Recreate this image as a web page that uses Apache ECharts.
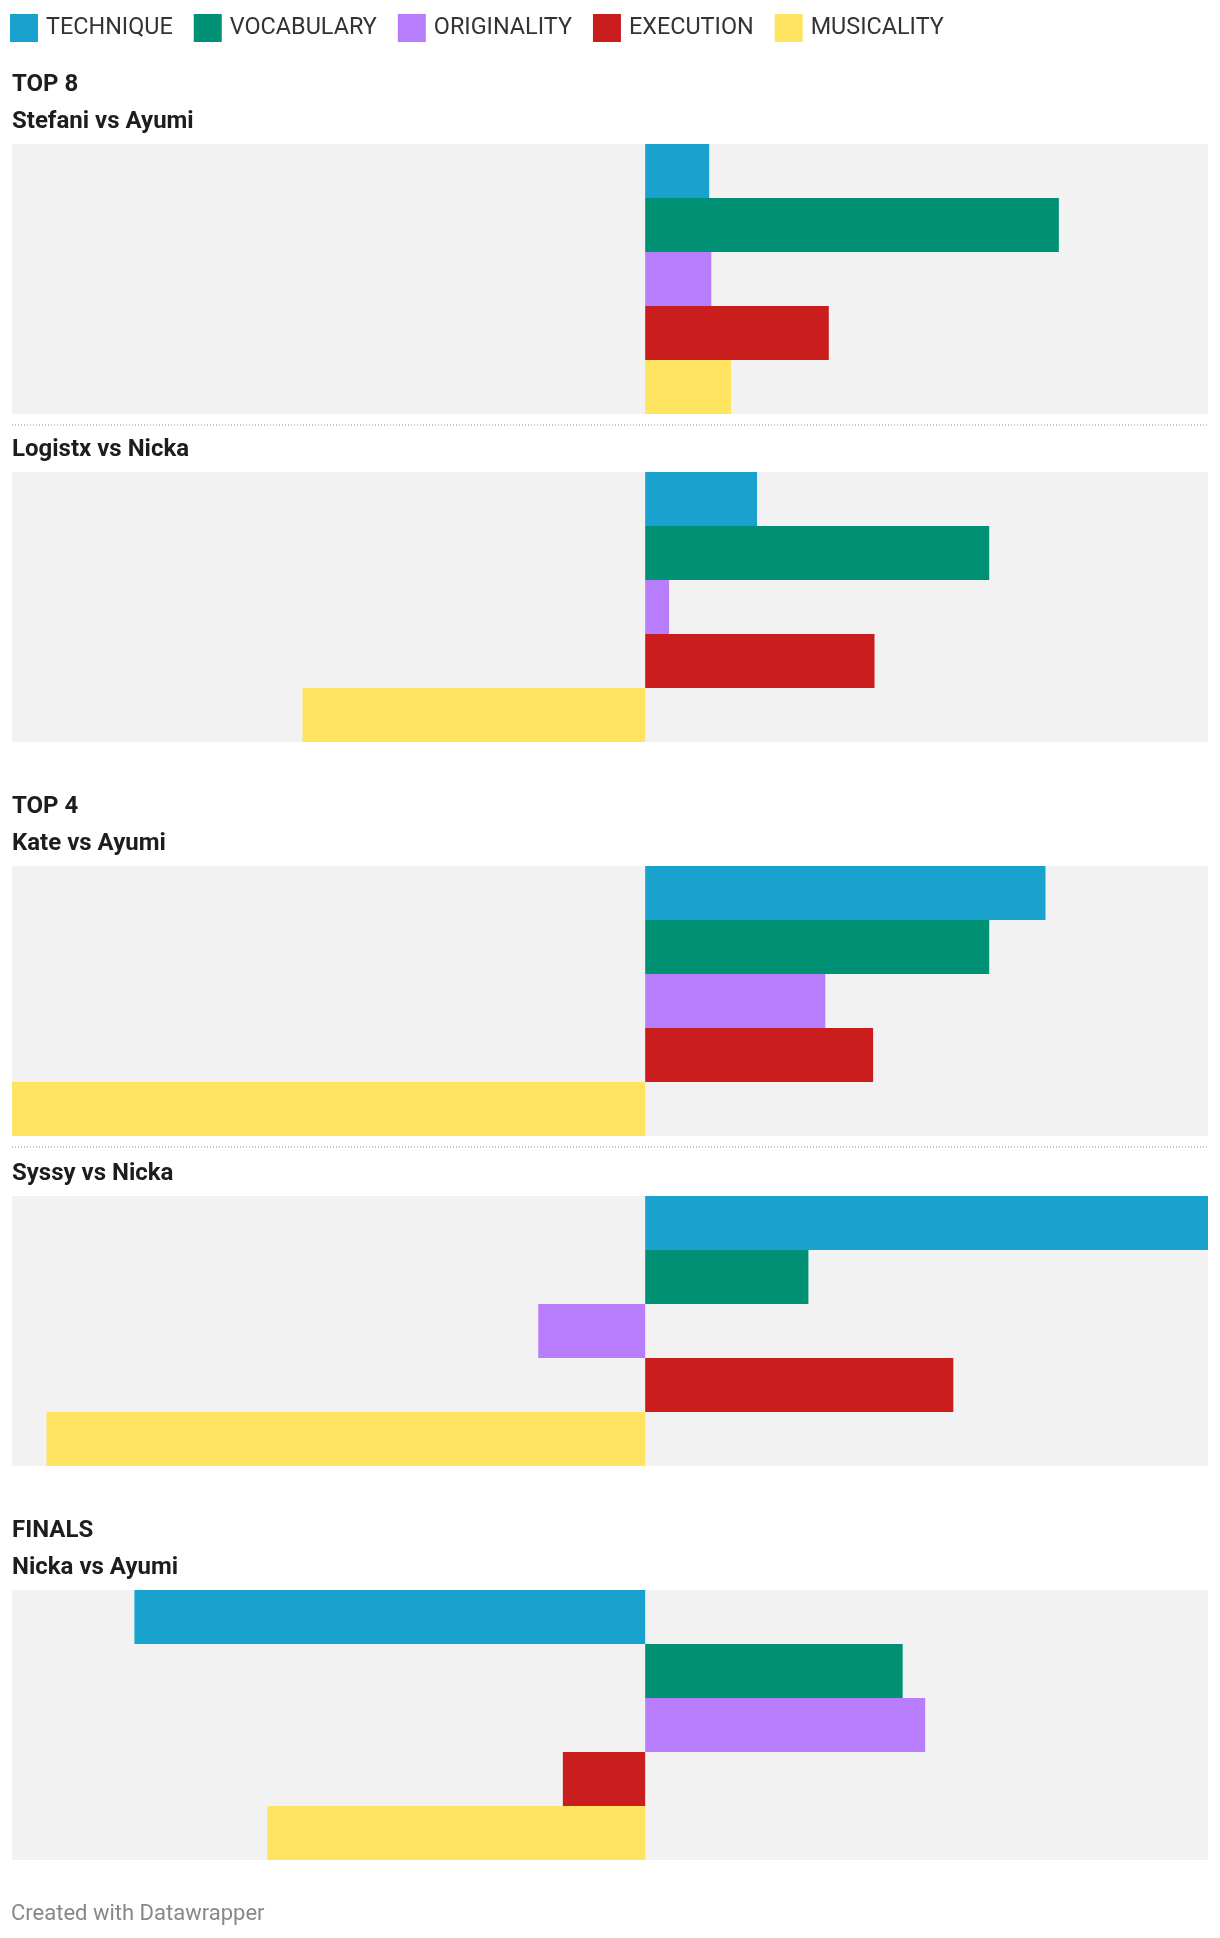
<!DOCTYPE html>
<html>
<head>
<meta charset="utf-8">
<script src="https://cdn.jsdelivr.net/npm/echarts@6/dist/echarts.min.js"></script>
<style>
  html, body { margin: 0; padding: 0; background: #ffffff; }
  #chart { width: 1220px; height: 1938px; }
</style>
</head>
<body>
<div id="chart"></div>
<script>
// ---- data ----
const categories = ['TECHNIQUE', 'VOCABULARY', 'ORIGINALITY', 'EXECUTION', 'MUSICALITY'];
const categoryColors = ['#19a2ce', '#009175', '#b87dfd', '#c91d1e', '#ffe462'];
const rounds = ['TOP 8', 'TOP 4', 'FINALS'];
const battles = ['Stefani vs Ayumi', 'Logistx vs Nicka', 'Kate vs Ayumi', 'Syssy vs Nicka', 'Nicka vs Ayumi'];
const battleRound = [0, null, 1, null, 2];   // round heading shown above battle (index into rounds)

const stefaniVsAyumi = [0.91, 5.88, 0.94, 2.61, 1.22];
const logistxVsNicka = [1.59, 4.89, 0.34, 3.26, -4.87];
const kateVsAyumi    = [5.69, 4.89, 2.56, 3.24, -9.00];
const syssyVsNicka   = [8.00, 2.32, -1.52, 4.38, -8.51];
const nickaVsAyumi   = [-7.26, 3.66, 3.98, -1.17, -5.37];
const battleValues = [stefaniVsAyumi, logistxVsNicka, kateVsAyumi, syssyVsNicka, nickaVsAyumi];

// ---- layout ----
const panelLeft = 12;
const panelWidth = 1196;
const panelHeight = 270;
const panelTops = [144, 472, 866, 1196, 1590];
const separatorsAfter = [0, 2]; // dotted line below these panels

const allVals = battleValues.flat();
const xMin = Math.min(...allVals);
const xMax = Math.max(...allVals);

const grids = [], xAxes = [], yAxes = [], series = [], graphics = [];

battles.forEach((name, p) => {
  grids.push({
    left: panelLeft, width: panelWidth, top: panelTops[p], height: panelHeight,
    show: true, backgroundColor: '#f2f2f2', borderWidth: 0
  });
  xAxes.push({
    type: 'value', gridIndex: p, min: xMin, max: xMax,
    axisLine: { show: false }, axisTick: { show: false },
    axisLabel: { show: false }, splitLine: { show: false }
  });
  yAxes.push({
    type: 'category', gridIndex: p, data: categories, inverse: true,
    axisLine: { show: false }, axisTick: { show: false },
    axisLabel: { show: false }, splitLine: { show: false }
  });
  categories.forEach((cat, c) => {
    series.push({
      type: 'bar', name: cat, xAxisIndex: p, yAxisIndex: p,
      stack: 'panel' + p, barWidth: '100%',
      itemStyle: { color: categoryColors[c] },
      emphasis: { disabled: true },
      data: battleValues[p].map((v, i) => (i === c ? v : '-'))
    });
  });

  const top = panelTops[p];
  graphics.push({
    type: 'text', left: panelLeft, top: top - 16 - 18,
    style: { text: name, font: 'bold 24px Roboto', fill: '#1d1d1d' }
  });
  if (battleRound[p] !== null) {
    graphics.push({
      type: 'text', left: panelLeft, top: top - 53 - 18,
      style: { text: rounds[battleRound[p]], font: 'bold 24px Roboto', fill: '#1d1d1d' }
    });
  }
});

separatorsAfter.forEach(p => {
  const y = panelTops[p] + panelHeight + 11;
  graphics.push({
    type: 'line',
    shape: { x1: panelLeft, y1: y, x2: panelLeft + panelWidth, y2: y },
    style: { stroke: '#c4c4c4', lineWidth: 2, lineDash: [1, 2] }
  });
});

graphics.push({
  type: 'text', left: 11, top: 1920 - 17,
  style: { text: 'Created with Datawrapper', font: '22px Roboto', fill: '#888888' }
});

const chart = echarts.init(document.getElementById('chart'), null, { renderer: 'canvas' });
chart.setOption({
  animation: false,
  backgroundColor: '#ffffff',
  textStyle: { fontFamily: 'Roboto' },
  legend: {
    data: categories,
    left: 10, top: 14, padding: 0,
    icon: 'rect', itemWidth: 28, itemHeight: 28, itemGap: 21,
    selectedMode: false,
    textStyle: { fontSize: 23.4, color: '#333333', fontFamily: 'Roboto', padding: [0, 0, 0, 3] }
  },
  grid: grids,
  xAxis: xAxes,
  yAxis: yAxes,
  series: series,
  graphic: graphics
});
</script>
</body>
</html>
